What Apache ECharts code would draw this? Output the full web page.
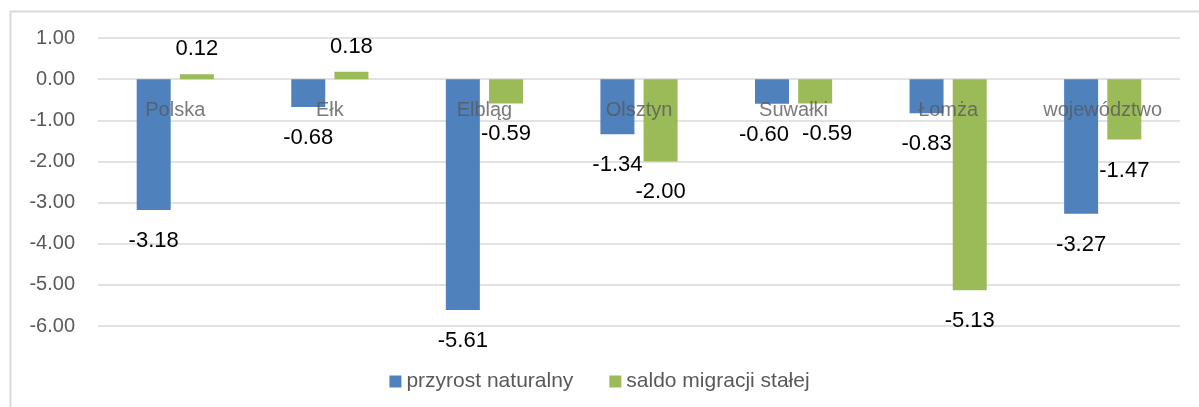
<!DOCTYPE html>
<html><head><meta charset="utf-8">
<script src="https://cdn.jsdelivr.net/npm/echarts@6/dist/echarts.min.js"></script>
<style>html,body{margin:0;padding:0;background:#fff}#c{width:1199px;height:407px}</style>
</head><body><div id="c"></div>
<script>
const categories = ['Polska', 'Ełk', 'Elbląg', 'Olsztyn', 'Suwałki', 'Łomża', 'województwo'];
const przyrostNaturalny = [-3.18, -0.68, -5.61, -1.34, -0.60, -0.83, -3.27];
const saldoMigracji = [0.12, 0.18, -0.59, -2.00, -0.59, -5.13, -1.47];
const seriesNames = ['przyrost naturalny', 'saldo migracji stałej'];
const yTicks = { min: -6, max: 1, interval: 1 };

const FONT = 'Liberation Sans';
const labelShift = { 0: { 4: -8 }, 1: { 4: 12 } };

function mkData(vals, si) {
  return vals.map((v, i) => {
    const neg = v < 0;
    const o = { value: v, label: { position: neg ? 'bottom' : 'top', distance: neg ? 20 : 14 } };
    const dx = (labelShift[si] || {})[i];
    if (dx) o.label.offset = [dx, 0];
    return o;
  });
}
function mkSeries(name, vals, color, si) {
  return {
    name, type: 'bar', data: mkData(vals, si), barWidth: 34, barGap: '27%',
    itemStyle: { color },
    label: {
      show: true, color: '#000', fontFamily: FONT, fontSize: 22,
      formatter: p => p.value.toFixed(2)
    }
  };
}
// category names drawn at the zero line (axis crosses at 0)
const catLabelSeries = {
  name: 'cat', type: 'scatter', data: categories.map(() => 0),
  symbolSize: 0, silent: true, z: 10,
  label: {
    show: true, position: 'bottom', distance: 21,
    color: '#595959', fontFamily: FONT, fontSize: 20,
    formatter: p => categories[p.dataIndex]
  }
};

const chart = echarts.init(document.getElementById('c'), null, { renderer: 'canvas' });
chart.setOption({
  animation: false,
  backgroundColor: '#fff',
  graphic: [{
    type: 'rect', left: 8, top: 9, z: -10,
    shape: { x: 0, y: 0, width: 1220, height: 440 },
    style: { fill: 'none', stroke: '#d9d9d9', lineWidth: 2 }
  }],
  grid: { left: 98, right: 19, top: 38, bottom: 81 },
  legend: {
    bottom: 10, left: 'center', itemWidth: 12, itemHeight: 12, itemGap: 36,
    icon: 'rect',
    textStyle: { color: '#595959', fontFamily: FONT, fontSize: 21 },
    data: seriesNames
  },
  xAxis: {
    type: 'category', data: categories,
    axisLine: { show: false }, axisTick: { show: false }, axisLabel: { show: false }
  },
  yAxis: {
    type: 'value', min: yTicks.min, max: yTicks.max, interval: yTicks.interval,
    axisLine: { show: false }, axisTick: { show: false },
    splitLine: { lineStyle: { color: '#d9d9d9', width: 1.5 } },
    axisLabel: { color: '#595959', fontFamily: FONT, fontSize: 20, margin: 23, formatter: v => v.toFixed(2) }
  },
  series: [
    mkSeries(seriesNames[0], przyrostNaturalny, '#4F81BD', 0),
    mkSeries(seriesNames[1], saldoMigracji, '#9BBB59', 1),
    catLabelSeries
  ]
});
</script></body></html>
